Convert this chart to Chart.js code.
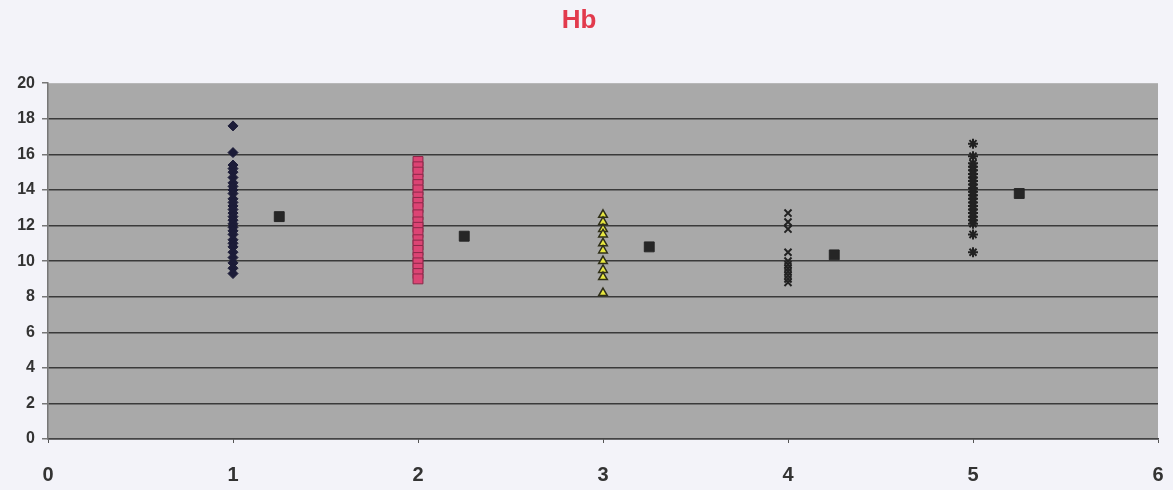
<!DOCTYPE html>
<html>
<head>
<meta charset="utf-8">
<script src="https://cdn.jsdelivr.net/npm/chart.js@4.4.1/dist/chart.umd.min.js"></script>
<style>
  html, body { margin: 0; padding: 0; background: #f3f3f9; }
  #wrap { width: 1173px; height: 490px; }
</style>
</head>
<body>
<div id="wrap"><canvas id="mycanvas"></canvas></div>
<script>
// group positions on the x axis and where each group's mean is plotted
var groups = [1, 2, 3, 4, 5];
var meanX = [1.25, 2.25, 3.25, 4.25, 5.25];
var means = [12.5, 11.4, 10.8, 10.35, 13.8];

// individual Hb readings per group
var hb1 = [17.6, 16.1, 15.4, 15.2, 15.0, 14.7, 14.4, 14.2, 14.0, 13.8, 13.5, 13.3, 13.1, 12.9, 12.7,
           12.5, 12.3, 12.1, 11.9, 11.7, 11.5, 11.2, 11.0, 10.8, 10.5, 10.2, 9.9, 9.6, 9.3];
var hb2 = [15.6, 15.3, 15.0, 14.6, 14.3, 14.0, 13.6, 13.3, 13.0, 12.6, 12.2, 11.9, 11.6, 11.2, 10.9,
           10.6, 10.2, 9.9, 9.6, 9.3, 9.0];
var hb3 = [12.6, 12.2, 11.8, 11.5, 11.0, 10.6, 10.0, 9.5, 9.1, 8.2];
var hb4 = [12.7, 12.2, 11.8, 10.5, 10.0, 9.8, 9.6, 9.4, 9.2, 9.0, 8.8];
var hb5 = [16.6, 15.9, 15.5, 15.3, 15.1, 14.9, 14.7, 14.5, 14.3, 14.1, 13.9, 13.7, 13.5, 13.3,
           13.1, 12.9, 12.7, 12.5, 12.3, 12.1, 11.5, 10.5];

var yTicks = [0, 2, 4, 6, 8, 10, 12, 14, 16, 18, 20];
var xTicks = [0, 1, 2, 3, 4, 5, 6];

function pts(x, arr) {
	var out = [];
	for (var i in arr) out.push({x: x, y: arr[i]});
	return out;
}

var meanPts = [];
for (var i in means) meanPts.push({x: meanX[i], y: means[i]});

// grey plot area behind the grid
var plotBg = {
	id: 'plotBg',
	beforeDraw: function(chart) {
		var a = chart.chartArea, c = chart.ctx;
		c.save();
		c.fillStyle = '#a9a9a9';
		c.fillRect(a.left, a.top, a.right - a.left, a.bottom - a.top);
		c.restore();
	}
};

var fam = '"Liberation Sans", Arial, sans-serif';

new Chart(document.getElementById('mycanvas'), {
	type: 'scatter',
	data: {
		datasets: [
			{ data: pts(groups[0], hb1), pointStyle: 'rectRot', pointRadius: 5, backgroundColor: '#1c1c38', borderColor: '#1c1c38' },
			{ data: pts(groups[1], hb2), pointStyle: 'rect', pointRadius: 7, backgroundColor: '#dc4474', borderColor: '#8a2848', borderWidth: 1 },
			{ data: pts(groups[2], hb3), pointStyle: 'triangle', pointRadius: 5, backgroundColor: '#e6e640', borderColor: '#30301a', borderWidth: 1.5 },
			{ data: pts(groups[3], hb4), pointStyle: 'crossRot', pointRadius: 5, borderColor: '#222', borderWidth: 2 },
			{ data: pts(groups[4], hb5), pointStyle: 'star', pointRadius: 5, borderColor: '#222', borderWidth: 2 },
			{ data: meanPts, pointStyle: 'rect', pointRadius: 7, backgroundColor: '#262626', borderColor: '#262626' }
		]
	},
	options: {
		responsive: true,
		maintainAspectRatio: false,
		animation: false,
		layout: { padding: { right: 15, bottom: 6 } },
		plugins: {
			legend: { display: false },
			tooltip: { enabled: false },
			title: {
				display: true,
				text: 'Hb',
				color: '#e23a4d',
				font: { family: fam, weight: 'bold', size: 26 },
				padding: { top: 5, bottom: 47 }
			}
		},
		scales: {
			x: {
				type: 'linear',
				min: 0, max: 6,
				afterBuildTicks: function(s) { s.ticks = xTicks.map(function(v) { return {value: v}; }); },
				grid: { drawOnChartArea: false, drawTicks: true, tickLength: 4, color: '#555' },
				border: { color: '#444', width: 1.5 },
				ticks: { color: '#333', padding: 20, font: { family: fam, weight: 'bold', size: 20 } },
				afterFit: function(s) {
					s.height = 45;
					s.paddingLeft = 0;
					s.paddingRight = 0;
				}
			},
			y: {
				min: 0, max: 20,
				afterBuildTicks: function(s) { s.ticks = yTicks.map(function(v) { return {value: v}; }); },
				grid: {
					color: function(c) { return c.tick && c.tick.value === 20 ? 'rgba(0,0,0,0)' : '#3a3a3a'; },
					lineWidth: 1.5,
					tickLength: 6,
					tickColor: '#777'
				},
				border: { color: '#777', width: 1.5 },
				ticks: { color: '#333', padding: 7, font: { family: fam, weight: 'bold', size: 16 } },
				afterFit: function(s) { s.width = 48; }
			}
		}
	},
	plugins: [plotBg]
});
</script>
</body>
</html>
